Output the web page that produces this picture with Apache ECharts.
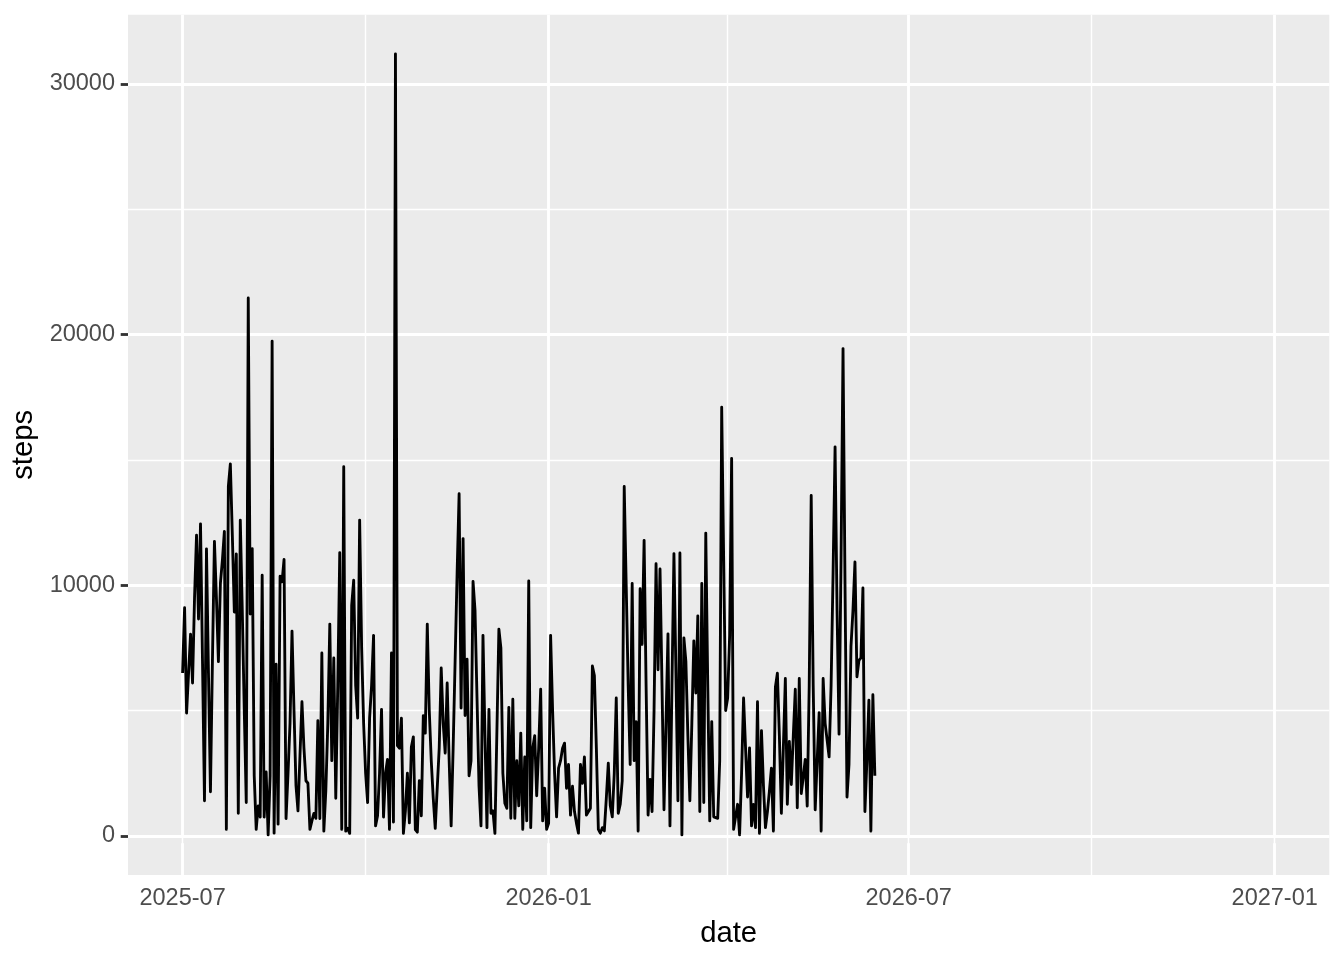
<!DOCTYPE html>
<html><head><meta charset="utf-8">
<script src="https://cdn.jsdelivr.net/npm/echarts@6/dist/echarts.min.js"></script>
<style>html,body{margin:0;padding:0;background:#fff}#c{width:1344px;height:960px}</style>
</head><body><div id="c"></div>
<script>
// Daily step counts, one array per month (index 0 = first day of month)
const steps_2025_07 = [6500,9100,4900,6500,8050,6100,9500,12000,8650,12450,7000,1400,11450,6500,1760,7000,11750,9500,6950,10070,11000,12150,260,13940,14840,12000,8930,11250,900,12600,9000];
const steps_2025_08 = [5000,1330,21460,8850,11460,2400,260,1200,750,10400,750,2550,40,2400,19740,110,6850,470,10360,10140,11030,690,2500,4500,8170,5000,2000,1000,3200,5350,3500];
const steps_2025_09 = [2200,2100,260,600,900,700,4600,690,7300,190,1800,4500,8450,3000,7100,1500,6000,11300,260,14730,190,300,100,9200,10200,6000,4700,12600,7500,4500];
const steps_2025_10 = [2500,1330,4700,6000,8000,400,800,2500,5050,750,2500,3050,260,7300,550,31200,3600,3500,4700,100,1000,2500,520,3550,3950,250,150,2200,800,4800,4100];
const steps_2025_11 = [8450,5000,3000,1500,300,350,3500,6700,4500,3300,6100,3000,400,3500,7000,10500,13650,5100,11860,4800,7050,2400,3000,10150,9000,5500,2000,400,8000,4000];
const steps_2025_12 = [330,5050,900,1000,100,150,8250,7500,2500,1300,1100,5130,700,5450,700,3000,1200,4100,260,3150,600,10170,330,3500,4000,1600,3500,5850,600,1900,260];
const steps_2026_01 = [500,8000,5000,2500,760,2700,3000,3500,3700,1900,2850,830,1980,970,500,110,2850,2100,3150,830,760,1100,6780,6400,3500,260,110,330,200,1500,2900];
const steps_2026_02 = [1200,760,2500,5500,900,1260,2200,13940,10000,6000,2850,10070,3000,4560,190,9860,7640,11790,6000,830,2250,970,5000,10860,6630,10650,6000,1040];
const steps_2026_03 = [4500,8060,400,6000,11260,6500,1400,11290,40,7900,6960,4000,1400,4500,7780,5700,8780,970,10070,1330,12080,6000,600,4560,760,690,700,3000,17100,11000,5000];
const steps_2026_04 = [5500,8000,15060,260,300,1260,40,2500,5500,3500,1550,3510,400,1260,330,5350,100,4200,2000,330,970,1800,2700,190,5930,6490,4000,900,3500,6280];
const steps_2026_05 = [1260,3770,2050,4000,5850,1120,6280,1690,2340,3050,1190,6000,13580,6000,1040,3000,4920,190,6280,4490,4420,3150,6000,10500,15520,9000,4060,11000,19440,10000,1550];
const steps_2026_06 = [2850,7560,9000,10930,6350,7000,7100,9890,970,3000,5410,190,5630,2400];

const monthStarts = ['2025-07-01','2025-08-01','2025-09-01','2025-10-01','2025-11-01','2025-12-01',
                     '2026-01-01','2026-02-01','2026-03-01','2026-04-01','2026-05-01','2026-06-01'];
const monthSteps = [steps_2025_07,steps_2025_08,steps_2025_09,steps_2025_10,steps_2025_11,steps_2025_12,
                    steps_2026_01,steps_2026_02,steps_2026_03,steps_2026_04,steps_2026_05,steps_2026_06];

// Axis breaks
const xMajorBreaks = ['2025-07-01','2026-01-01','2026-07-01','2027-01-01'];
const xMinorBreaks = ['2025-10-01','2026-04-01','2026-10-01'];
const xLimits = ['2025-07-01','2027-01-01'];
const yMajorBreaks = [0,10000,20000,30000];
const yMinorBreaks = [5000,15000,25000];

const DAY = 86400000;
const ts = s => { const [y,m,d] = s.split('-').map(Number); return Date.UTC(y,m-1,d); };

const data = [];
monthStarts.forEach((s,i) => {
  const t0 = ts(s);
  monthSteps[i].forEach((v,j) => data.push([t0 + j*DAY, v]));
});

const xa = ts(xLimits[0]), xb = ts(xLimits[1]);
const xMin = xa - 0.05*(xb-xa), xMax = xb + 0.05*(xb-xa);
const yMaxData = Math.max(...data.map(d=>d[1]));
const yMin = -0.05*yMaxData, yMax = yMaxData*1.05;

const FONT = 'Liberation Sans, Arial, Helvetica, sans-serif';
const majorW = 2.85, minorW = 1.42;
const gridLines = [];
xMajorBreaks.forEach(s => gridLines.push({xAxis: ts(s), lineStyle:{color:'#FFFFFF', width: majorW, type:'solid'}}));
xMinorBreaks.forEach(s => gridLines.push({xAxis: ts(s), lineStyle:{color:'#FFFFFF', width: minorW, type:'solid'}}));
yMajorBreaks.forEach(v => gridLines.push({yAxis: v, lineStyle:{color:'#FFFFFF', width: majorW, type:'solid'}}));
yMinorBreaks.forEach(v => gridLines.push({yAxis: v, lineStyle:{color:'#FFFFFF', width: minorW, type:'solid'}}));

const fmtDate = v => { const d = new Date(v); return d.getUTCFullYear() + '-' + String(d.getUTCMonth()+1).padStart(2,'0'); };

const chart = echarts.init(document.getElementById('c'), null, {renderer:'canvas'});
chart.setOption({
  animation: false,
  backgroundColor: '#FFFFFF',
  grid: {left:128, right:14.7, top:14.7, bottom:85, show:true, backgroundColor:'#EBEBEB', borderWidth:0},
  xAxis: {
    type:'value', min:xMin, max:xMax, scale:true,
    name:'date', nameLocation:'middle', nameGap:44,
    nameTextStyle:{fontSize:29.3, color:'#000000', fontFamily:FONT},
    axisLine:{show:false},
    axisTick:{show:true, customValues: xMajorBreaks.map(ts), length:7.3, lineStyle:{color:'#333333', width:majorW}},
    axisLabel:{show:true, customValues: xMajorBreaks.map(ts), margin:12, fontSize:23.5, color:'#4D4D4D', fontFamily:FONT,
      formatter: v => fmtDate(v)},
    splitLine:{show:false}
  },
  yAxis: {
    type:'value', min:yMin, max:yMax,
    name:'steps', nameLocation:'middle', nameGap:88, nameRotate:90,
    nameTextStyle:{fontSize:29.3, color:'#000000', fontFamily:FONT},
    axisLine:{show:false},
    axisTick:{show:true, customValues: yMajorBreaks, length:7.3, lineStyle:{color:'#333333', width:majorW}},
    axisLabel:{show:true, customValues: yMajorBreaks, margin:13, fontSize:23.5, color:'#4D4D4D', fontFamily:FONT,
      formatter: v => String(v)},
    splitLine:{show:false}
  },
  series: [
    {type:'line', data:[], z:1, silent:true,
     markLine:{silent:true, symbol:'none', animation:false, z:1, label:{show:false}, emphasis:{disabled:true}, data: gridLines}},
    {type:'line', data:data, z:5, symbol:'none', showSymbol:false,
     lineStyle:{color:'#000000', width:2.85, join:'round'}}
  ]
});
</script>
</body></html>
